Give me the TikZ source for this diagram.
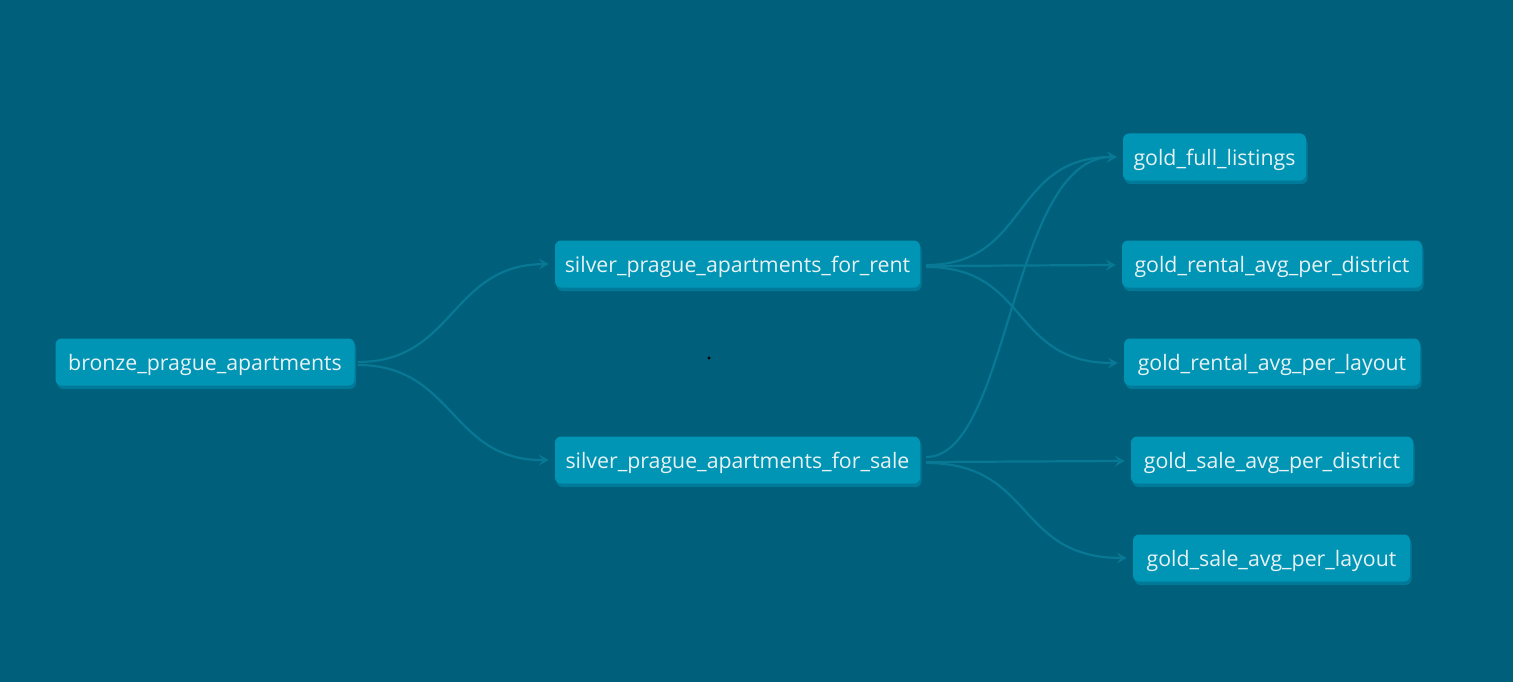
\documentclass[tikz,border=0pt]{standalone}
\usepackage{fontspec}
\setmainfont{Open Sans}
\usetikzlibrary{arrows.meta}
\definecolor{bg}{RGB}{0,95,122}
\definecolor{nodefill}{RGB}{0,149,181}
\definecolor{nodeshadow}{RGB}{0,122,152}
\definecolor{edgecol}{RGB}{8,120,148}
\definecolor{txt}{RGB}{232,242,244}
\tikzset{
  x=1pt,y=-1pt,
  tbl/.style={draw=none,fill=nodefill,rounded corners=6pt,minimum height=47pt,
    inner xsep=0pt,text height=21pt,text depth=5pt,text=txt,font=\fontsize{21.3}{22}\selectfont,
    preaction={fill=nodeshadow,transform canvas={xshift=1.5pt,yshift=-3.5pt}}},
  flow/.style={draw=edgecol,line width=2.2pt,-{Stealth[length=10pt,width=11pt,inset=4pt]}}
}
\begin{document}
\begin{tikzpicture}
\fill[bg] (0,0) rectangle (1513,682);
\useasboundingbox (0,0) rectangle (1513,682);
\node[tbl,minimum width=299pt] (bronze) at (205,362) {bronze\_prague\_apartments};
\node[tbl,minimum width=365pt] (rent) at (737.5,264) {silver\_prague\_apartments\_for\_rent};
\node[tbl,minimum width=365pt] (sale) at (737.5,460) {silver\_prague\_apartments\_for\_sale};
\node[tbl,minimum width=183pt] (full) at (1214.5,157) {gold\_full\_listings};
\node[tbl,minimum width=300pt] (rdist) at (1272,264) {gold\_rental\_avg\_per\_district};
\node[tbl,minimum width=296pt] (rlay) at (1272,362) {gold\_rental\_avg\_per\_layout};
\node[tbl,minimum width=282pt] (sdist) at (1272,460) {gold\_sale\_avg\_per\_district};
\node[tbl,minimum width=277pt] (slay) at (1271.5,558) {gold\_sale\_avg\_per\_layout};
\draw[flow] ([xshift=3pt,yshift=0pt]bronze.east) .. controls (455,362) and (450,265) .. ([xshift=-6pt]rent.west);
\draw[flow] ([xshift=3pt,yshift=-3pt]bronze.east) .. controls (455,365) and (450,461) .. ([xshift=-6pt]sale.west);
\draw[flow] ([xshift=6pt,yshift=-1pt]rent.east) .. controls (1030,265) and (1010,157) .. ([xshift=-6pt]full.west);
\draw[flow] ([xshift=6pt,yshift=-2pt]rent.east) -- ([xshift=-6pt,yshift=-1pt]rdist.west);
\draw[flow] ([xshift=6pt,yshift=-3pt]rent.east) .. controls (1030,267) and (1010,363) .. ([xshift=-6pt,yshift=-1pt]rlay.west);
\draw[flow] ([xshift=6pt,yshift=3pt]sale.east) .. controls (1010,457) and (1010,157) .. ([xshift=-6pt]full.west);
\draw[flow] ([xshift=6pt,yshift=-2pt]sale.east) -- ([xshift=-6pt,yshift=-1pt]sdist.west);
\draw[flow] ([xshift=6pt,yshift=-3pt]sale.east) .. controls (1035,463) and (1015,558) .. ([xshift=-6pt]slay.west);
\fill[black] (709,358) circle (1.6pt);
\end{tikzpicture}
\end{document}
